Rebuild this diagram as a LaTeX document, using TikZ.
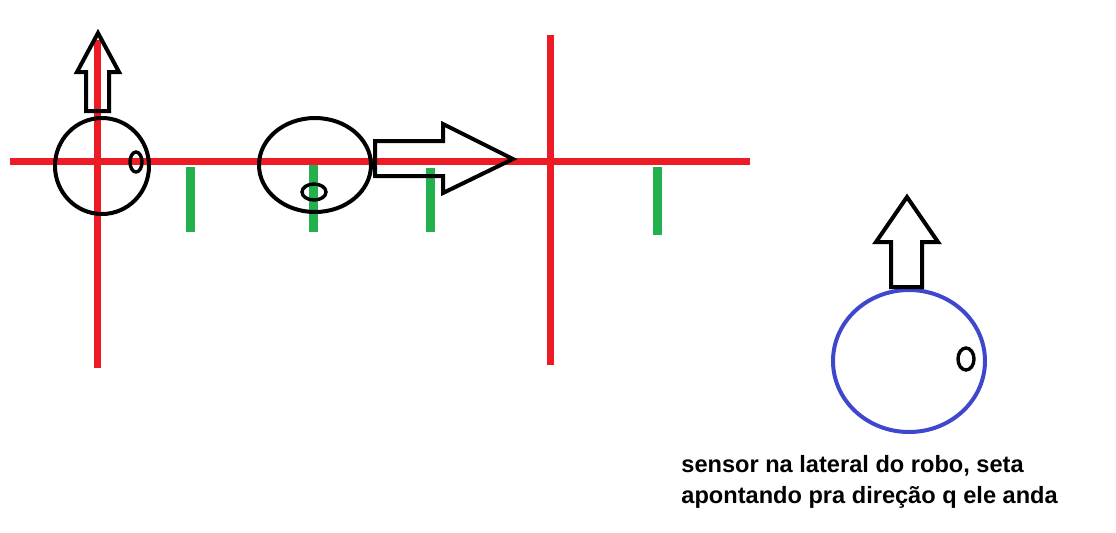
\documentclass[tikz,border=0pt]{standalone}
\usepackage{fontspec}
\setmainfont{Liberation Sans}
\usetikzlibrary{shapes.geometric}
\definecolor{paintred}{RGB}{237,28,36}
\definecolor{paintgreen}{RGB}{34,177,76}
\definecolor{paintblue}{RGB}{63,72,204}
\tikzset{
    track/.style={paintred, line width=3.5pt},
    mark line/.style={paintgreen, line width=4.5pt},
    robot/.style={draw, ellipse, line width=2pt, inner sep=0pt},
    sensor/.style={draw, ellipse, line width=1.7pt, inner sep=0pt},
    bigarrow/.style={draw, line width=2pt, line join=miter}
}
\begin{document}
\begin{tikzpicture}[x=0.5pt, y=-0.5pt]
    \useasboundingbox (0,0) rectangle (1116,532);
    % lines of the track
    \draw[track] (10,161) -- (750,161);
    \draw[track] (97,40) -- (97,368);
    \draw[track] (550,35) -- (550,365);
    \draw[mark line] (190,167) -- (190,232);
    \draw[mark line] (313,165) -- (313,232);
    \draw[mark line] (430,168) -- (430,232);
    \draw[mark line] (657,167) -- (657,235);
    % robots
    \node[robot, minimum width=47pt, minimum height=48pt] (Robo1) at (102,166) {};
    \node[sensor, minimum width=6pt, minimum height=10pt] (Sensor1) at (136,162) {};
    \node[robot, minimum width=56pt, minimum height=47pt] (Robo2) at (315,165) {};
    \node[sensor, minimum width=12pt, minimum height=8pt] (Sensor2) at (314,192) {};
    \node[robot, draw=paintblue, minimum width=76pt, minimum height=71pt] (Robo3) at (909,361) {};
    \node[sensor, minimum width=8pt, minimum height=11pt] (Sensor3) at (966,359) {};
    % arrows
    \draw[bigarrow] (86,111) -- (86,72) -- (77,72) -- (98,33) -- (119,72) -- (109,72) -- (109,111) -- cycle;
    \draw[bigarrow] (375,141) -- (443,141) -- (443,124) -- (513,159) -- (443,193) -- (443,176) -- (375,176) -- cycle;
    \draw[bigarrow] (891,287) -- (891,242) -- (876,242) -- (907,197) -- (938,242) -- (922,242) -- (922,287) -- cycle;
    % text
    \node[anchor=base west, align=left, inner sep=0pt, font=\bfseries\fontsize{11.8pt}{15.5pt}\selectfont] (Nota) at (681,503)
        {sensor na lateral do robo, seta\\apontando pra direção q ele anda};
\end{tikzpicture}
\end{document}
